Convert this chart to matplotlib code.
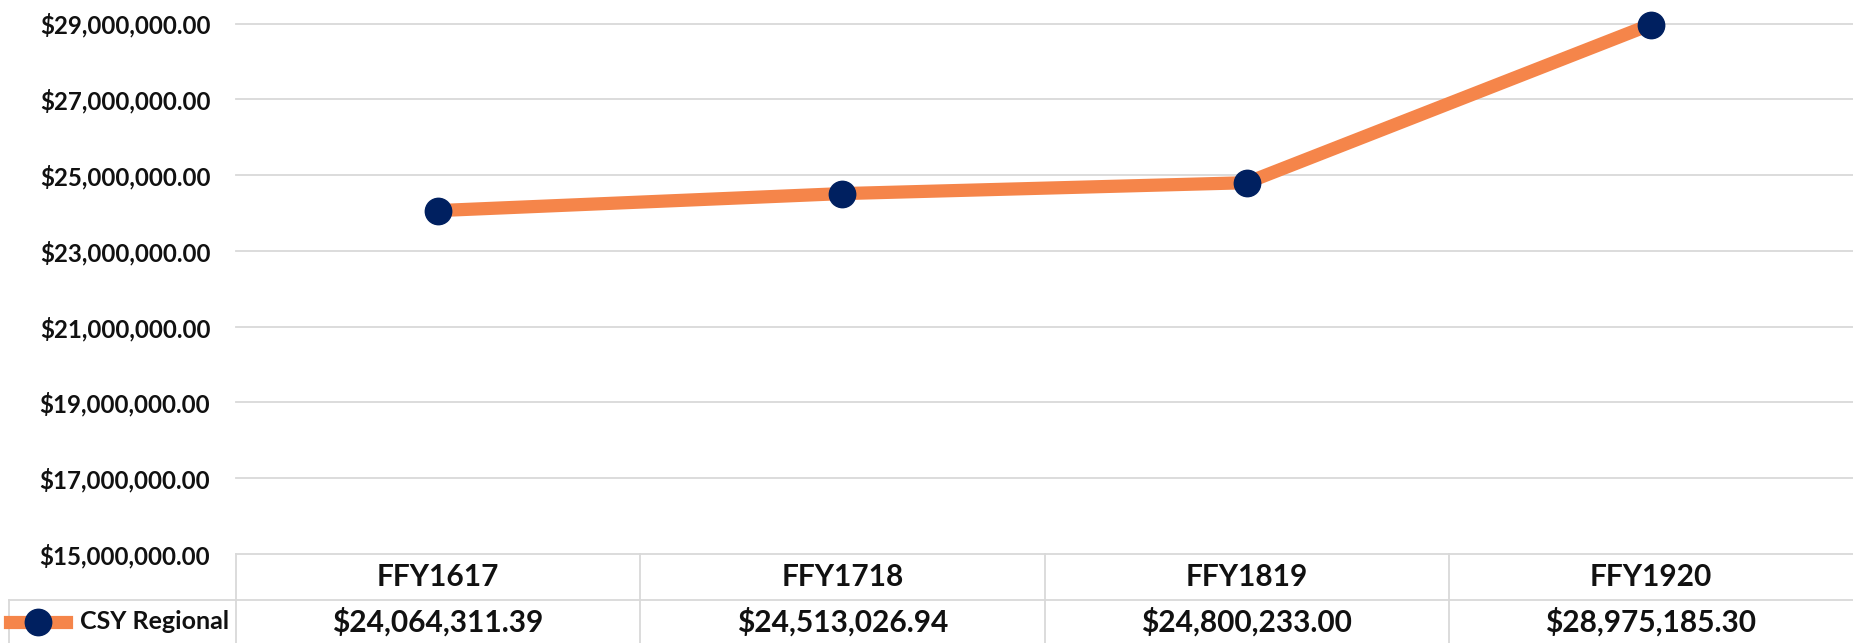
import numpy as np
import matplotlib.pyplot as plt
from matplotlib import transforms

plt.rcParams['font.family'] = ['Lato', 'DejaVu Sans']
plt.rcParams['font.weight'] = 'bold'

years = ['FFY1617', 'FFY1718', 'FFY1819', 'FFY1920']
csy_regional = [24064311.39, 24513026.94, 24800233.00, 28975185.30]
series_name = 'CSY Regional'
y_ticks = [15000000, 17000000, 19000000, 21000000, 23000000, 25000000, 27000000, 29000000]

orange = '#F5854A'
navy = '#002060'
grid_c = '#D9D9D9'
txt_c = '#111111'

W, H = 1853, 643
fig = plt.figure(figsize=(W / 100, H / 100), dpi=100)
left, right, top, bottom = 236, 1853, 23.6, 554
ax = fig.add_axes([left / W, (H - bottom) / H, (right - left) / W, (bottom - top) / H])

x = np.arange(len(years))
ax.plot(x, csy_regional, color=orange, lw=9.5, solid_capstyle='butt', zorder=3,
        marker='o', markersize=19, markerfacecolor=navy, markeredgecolor=navy, clip_on=False)

ax.set_xlim(-0.5, len(years) - 0.5)
ax.set_ylim(y_ticks[0], y_ticks[-1])
ax.set_yticks(y_ticks)
ax.set_yticklabels(['${:,.2f}'.format(v) for v in y_ticks], fontsize=17.3, color=txt_c)
ax.tick_params(axis='y', length=0, pad=18.5)
ax.tick_params(axis='x', length=0, labelbottom=False)
for s in ax.spines.values():
    s.set_visible(False)
for v in y_ticks:
    ax.axhline(v, color=grid_c, lw=1.3, zorder=1, clip_on=False)

# data table under the plot
tr = transforms.blended_transform_factory(ax.transData, ax.transAxes)
ph = bottom - top
row1 = (bottom - 600) / ph
row_bot = (bottom - H) / ph
left_edge = (9 - left) / ((right - left) / len(years)) - 0.5

ax.plot([left_edge, len(years) - 0.5], [row1, row1], color=grid_c, lw=1.3, transform=tr, clip_on=False)
ax.plot([left_edge, left_edge], [row1, row_bot], color=grid_c, lw=1.3, transform=tr, clip_on=False)
for i in range(len(years)):
    ax.plot([i - 0.5, i - 0.5], [0, row_bot], color=grid_c, lw=1.3, transform=tr, clip_on=False)

for i, (yr, val) in enumerate(zip(years, csy_regional)):
    ax.text(i, (0 + row1) / 2, yr, transform=tr, ha='center', va='center',
            fontsize=21.5, color=txt_c)
    ax.text(i, (row1 + row_bot) / 2, '${:,.2f}'.format(val), transform=tr, ha='center',
            va='center', fontsize=21.5, color=txt_c)

# legend key in the table
ftr = fig.transFigure
ky = 1 - 621.5 / H
fig.add_artist(plt.Line2D([10 / W, 66 / W], [ky, ky], color=orange, lw=9.5, transform=ftr))
fig.add_artist(plt.Line2D([38 / W], [ky], marker='o', markersize=19, color=navy, transform=ftr))
fig.text(80 / W, ky, series_name, ha='left', va='center', fontsize=18, color=txt_c)

fig.savefig('out.png', dpi=100)
